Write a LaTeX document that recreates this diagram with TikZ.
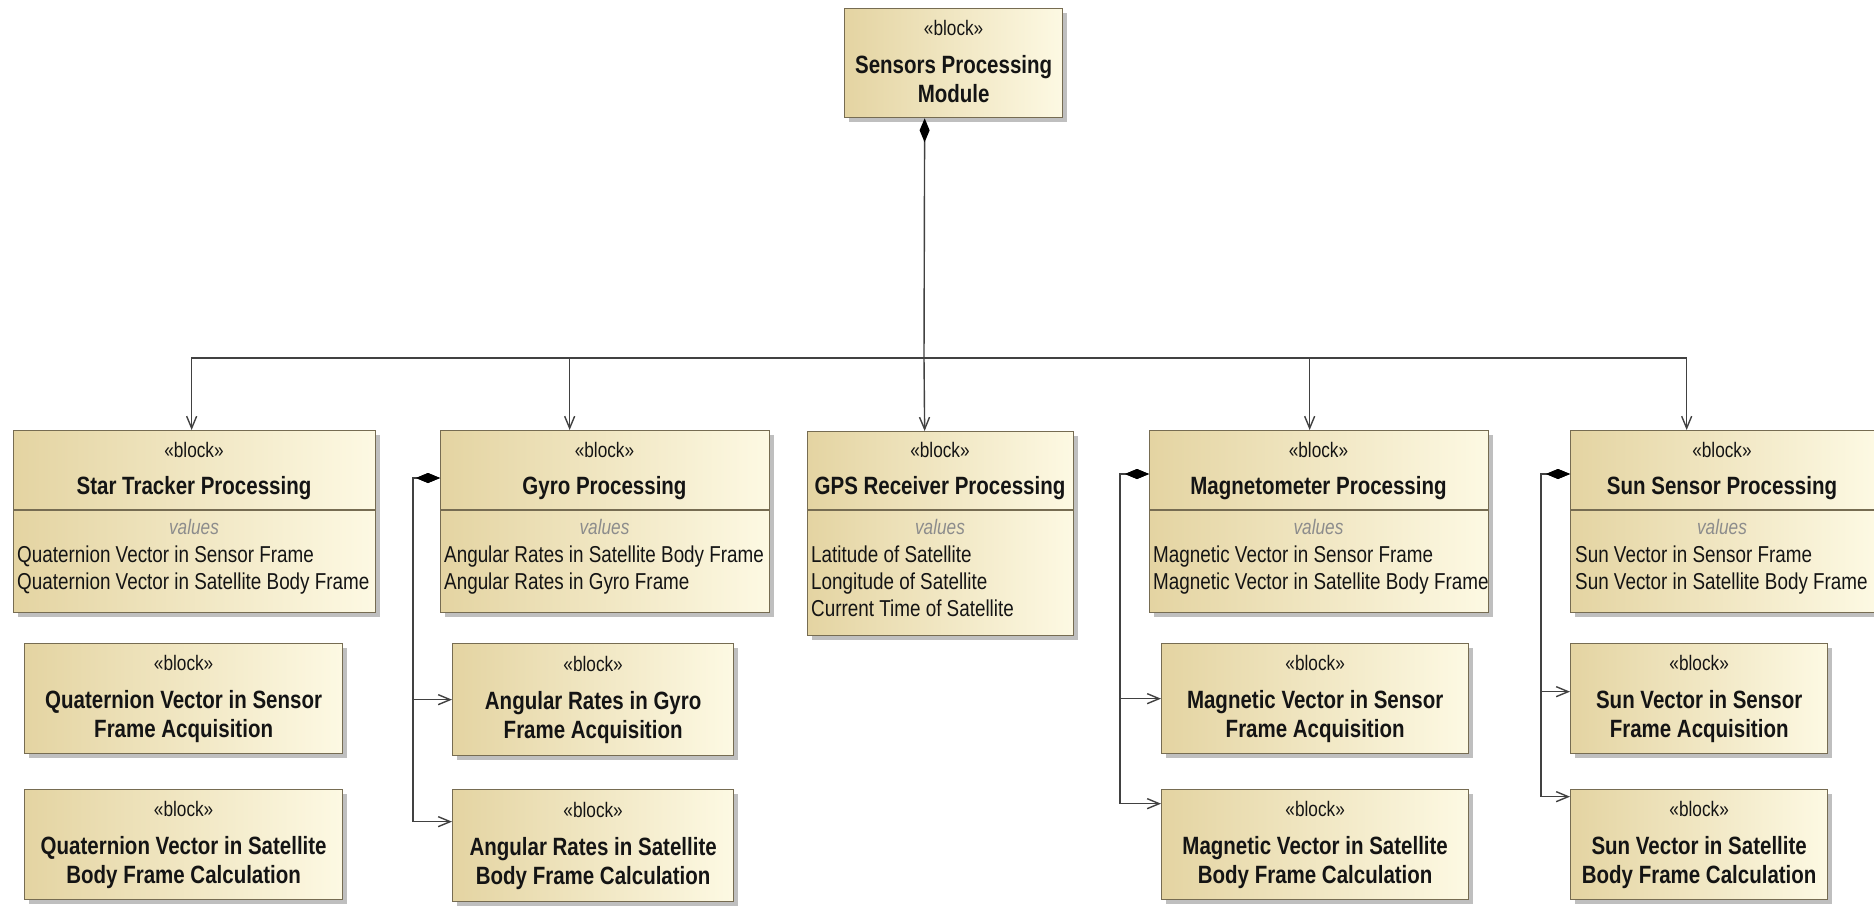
\documentclass[tikz,border=0pt]{standalone}
\usepackage{fontspec}
\setmainfont{Liberation Sans}[FakeStretch=0.82]
\usetikzlibrary{arrows.meta,shadows}

\definecolor{tanL}{RGB}{228,212,162}
\definecolor{tanR}{RGB}{253,249,227}
\definecolor{edgecol}{RGB}{118,108,82}
\definecolor{wirecol}{RGB}{65,65,65}
\definecolor{valgray}{RGB}{140,140,140}
\definecolor{ink}{RGB}{20,20,20}

% stereotype line plus a two-line bold block name
\newcommand{\blocktext}[2]{\fontsize{25}{29}\selectfont\begin{tabular}{@{}c@{}}{\fontsize{21}{25}\selectfont «block»}\\[9pt]\bfseries #1\\ \bfseries #2\end{tabular}}

\tikzset{
  blockbox/.style={draw=edgecol, line width=1.3pt, left color=tanL, right color=tanR,
    anchor=north west, inner sep=0pt, text=ink,
    drop shadow={shadow xshift=4pt, shadow yshift=-4pt, fill=black!50, opacity=0.5}},
  stereo/.style={font=\fontsize{21}{25}\selectfont, text=ink, inner sep=0pt,
    text height=15pt, text depth=4pt},
  bname/.style={font=\fontsize{25}{29}\selectfont\bfseries, text=ink, inner sep=0pt,
    text height=18pt, text depth=5pt},
  valhead/.style={font=\fontsize{21}{25}\selectfont\itshape, text=valgray, inner sep=0pt,
    text height=15pt, text depth=4pt},
  attr/.style={font=\fontsize{23}{27}\selectfont, text=ink, anchor=west, inner sep=0pt,
    text height=17pt, text depth=5pt},
  sepline/.style={draw=edgecol, line width=1.3pt},
  wire/.style={draw=wirecol, line width=1.4pt},
  owned/.style={wire, {Diamond[length=24pt,width=10pt,fill=black,color=black]}-},
  part/.style={wire, -{Straight Barb[length=12pt,width=10pt]}},
  ownedpart/.style={wire, {Diamond[length=24pt,width=10pt,fill=black,color=black]}-{Straight Barb[length=12pt,width=10pt]}},
}

\begin{document}
\begin{tikzpicture}[x=1pt,y=-1pt]
\fill[white] (0,0) rectangle (1874,905);
\useasboundingbox (0,0) rectangle (1874,905);

% top-level module
\node[blockbox, minimum width=218pt, minimum height=109pt] (top) at (844,8)
  {\blocktext{Sensors Processing}{Module}};

% ---- Star Tracker Processing ----
\node[blockbox, minimum width=362pt, minimum height=182pt] (star) at (13,430) {};
\node[stereo] (star-s) at (194,452) {«block»};
\node[bname] (star-n) at (194,488) {Star Tracker Processing};
\draw[sepline] (13,510) -- (375,510);
\node[valhead] (star-v) at (194,529) {values};
\node[attr] (star-a1) at (17,556) {Quaternion Vector in Sensor Frame};
\node[attr] (star-a2) at (17,583) {Quaternion Vector in Satellite Body Frame};

% ---- Gyro Processing ----
\node[blockbox, minimum width=329pt, minimum height=182pt] (gyro) at (440,430) {};
\node[stereo] (gyro-s) at (604.5,452) {«block»};
\node[bname] (gyro-n) at (604.5,488) {Gyro Processing};
\draw[sepline] (440,510) -- (769,510);
\node[valhead] (gyro-v) at (604.5,529) {values};
\node[attr] (gyro-a1) at (444,556) {Angular Rates in Satellite Body Frame};
\node[attr] (gyro-a2) at (444,583) {Angular Rates in Gyro Frame};

% ---- GPS Receiver Processing ----
\node[blockbox, minimum width=266pt, minimum height=204pt] (gps) at (807,431) {};
\node[stereo] (gps-s) at (940,452) {«block»};
\node[bname] (gps-n) at (940,488) {GPS Receiver Processing};
\draw[sepline] (807,510) -- (1073,510);
\node[valhead] (gps-v) at (940,529) {values};
\node[attr] (gps-a1) at (811,556) {Latitude of Satellite};
\node[attr] (gps-a2) at (811,583) {Longitude of Satellite};
\node[attr] (gps-a3) at (811,610) {Current Time of Satellite};

% ---- Magnetometer Processing ----
\node[blockbox, minimum width=339pt, minimum height=182pt] (mag) at (1149,430) {};
\node[stereo] (mag-s) at (1318.5,452) {«block»};
\node[bname] (mag-n) at (1318.5,488) {Magnetometer Processing};
\draw[sepline] (1149,510) -- (1488,510);
\node[valhead] (mag-v) at (1318.5,529) {values};
\node[attr] (mag-a1) at (1153,556) {Magnetic Vector in Sensor Frame};
\node[attr] (mag-a2) at (1153,583) {Magnetic Vector in Satellite Body Frame};

% ---- Sun Sensor Processing ----
\node[blockbox, minimum width=304pt, minimum height=182pt] (sun) at (1570,430) {};
\node[stereo] (sun-s) at (1722,452) {«block»};
\node[bname] (sun-n) at (1722,488) {Sun Sensor Processing};
\draw[sepline] (1570,510) -- (1874,510);
\node[valhead] (sun-v) at (1722,529) {values};
\node[attr] (sun-a1) at (1575,556) {Sun Vector in Sensor Frame};
\node[attr] (sun-a2) at (1575,583) {Sun Vector in Satellite Body Frame};

% ---- sub-blocks ----
\node[blockbox, minimum width=318pt, minimum height=110pt] (qacq) at (24,643)
  {\blocktext{Quaternion Vector in Sensor}{Frame Acquisition}};
\node[blockbox, minimum width=318pt, minimum height=110pt] (qcal) at (24,789)
  {\blocktext{Quaternion Vector in Satellite}{Body Frame Calculation}};
\node[blockbox, minimum width=281pt, minimum height=112pt] (gacq) at (452,643)
  {\blocktext{Angular Rates in Gyro}{Frame Acquisition}};
\node[blockbox, minimum width=281pt, minimum height=112pt] (gcal) at (452,789)
  {\blocktext{Angular Rates in Satellite}{Body Frame Calculation}};
\node[blockbox, minimum width=307pt, minimum height=110pt] (macq) at (1161,643)
  {\blocktext{Magnetic Vector in Sensor}{Frame Acquisition}};
\node[blockbox, minimum width=307pt, minimum height=110pt] (mcal) at (1161,789)
  {\blocktext{Magnetic Vector in Satellite}{Body Frame Calculation}};
\node[blockbox, minimum width=257pt, minimum height=110pt] (sacq) at (1570,643)
  {\blocktext{Sun Vector in Sensor}{Frame Acquisition}};
\node[blockbox, minimum width=257pt, minimum height=110pt] (scal) at (1570,789)
  {\blocktext{Sun Vector in Satellite}{Body Frame Calculation}};

% ---- composition tree from the module ----
\coordinate (bus) at (924,358);
\draw[owned] ([xshift=-29pt]top.south) -- (bus);
\draw[part] (bus) -| ([xshift=-3pt]star.north);
\draw[part] (bus) -| ([xshift=-35.5pt]gyro.north);
\draw[part] (bus) -- ([xshift=-16pt]gps.north);
\draw[part] (bus) -| ([xshift=-9.5pt]mag.north);
\draw[part] (bus) -| ([xshift=-36pt]sun.north);

% ---- side compositions ----
\draw[ownedpart] ([yshift=-48pt]gyro.north west) -- ++(-27,0) |- (gacq.west);
\draw[ownedpart] ([yshift=-48pt]gyro.north west) -- ++(-27,0) |- ([yshift=24pt]gcal.west);
\draw[ownedpart] ([yshift=-44pt]mag.north west) -- ++(-29,0) |- (macq.west);
\draw[ownedpart] ([yshift=-44pt]mag.north west) -- ++(-29,0) |- ([yshift=41pt]mcal.west);
\draw[ownedpart] ([yshift=-44pt]sun.north west) -- ++(-29,0) |- ([yshift=7pt]sacq.west);
\draw[ownedpart] ([yshift=-44pt]sun.north west) -- ++(-29,0) |- ([yshift=48pt]scal.west);
\end{tikzpicture}
\end{document}
